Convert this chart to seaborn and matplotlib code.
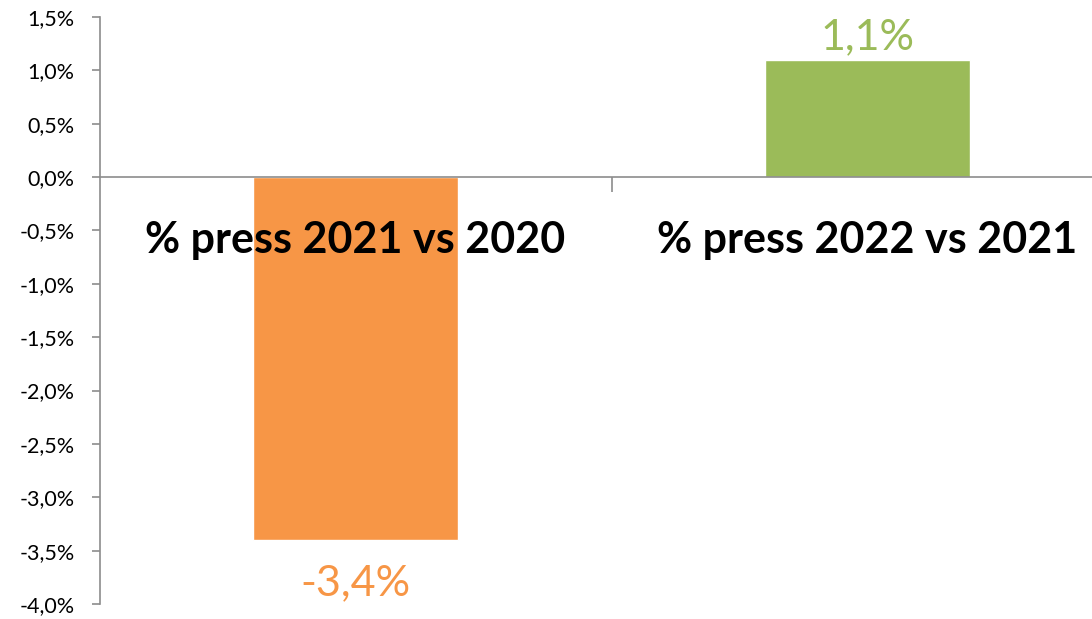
import matplotlib
matplotlib.use("Agg")
import matplotlib.pyplot as plt
import seaborn as sns
from matplotlib.ticker import FuncFormatter, FixedLocator

categories = ["% press 2021 vs 2020", "% press 2022 vs 2021"]
values = [-3.4, 1.1]
colors = ["#F79646", "#9BBB59"]
value_labels = ["-3,4%", "1,1%"]

sns.set_style("white")
plt.rcParams["font.family"] = ["Lato", "DejaVu Sans"]

fig = plt.figure(figsize=(10.92, 6.19), dpi=100)
# axes runs past the right edge of the figure, like the original crop
ax = fig.add_axes([99.5 / 1092, (619 - 604) / 619, 1024 / 1092, 587 / 619])

sns.barplot(x=categories, y=values, hue=categories, palette=colors,
            width=0.4, legend=False, ax=ax, saturation=1)

ax.set_ylim(-4.0, 1.5)
ax.set_xlim(-0.5, 1.5)
ax.yaxis.set_major_locator(FixedLocator([i * 0.5 for i in range(-8, 4)]))
ax.yaxis.set_major_formatter(FuncFormatter(lambda v, p: f"{v:.1f}%".replace(".", ",")))

for s in ["top", "right"]:
    ax.spines[s].set_visible(False)
ax.spines["bottom"].set_position(("data", 0))
for s in ["left", "bottom"]:
    ax.spines[s].set_color("#8c8c8c")
    ax.spines[s].set_linewidth(1.2)

ax.tick_params(axis="y", direction="out", length=6, width=1.2, color="#8c8c8c",
               labelsize=15.5, labelcolor="black", left=True, pad=12)
ax.xaxis.set_minor_locator(FixedLocator([0.5, 1.5]))
ax.tick_params(axis="x", which="minor", direction="out", length=11, width=1.2,
               color="#8c8c8c", bottom=True)
ax.tick_params(axis="x", which="major", length=0, labelbottom=False)
ax.set_xlabel("")
ax.set_ylabel("")

# category names sit on top of the bars, just under the zero line
for i, name in enumerate(categories):
    ax.annotate(name, (i, 0), xytext=(0, -45), textcoords="offset points",
                ha="center", va="center", fontsize=31, fontweight="bold",
                color="black", zorder=10)

for i, (v, t, c) in enumerate(zip(values, value_labels, colors)):
    off = -31 if v < 0 else 16.5
    ax.annotate(t, (i, v), xytext=(0, off), textcoords="offset points",
                ha="center", va="center", fontsize=31, color=c)

fig.savefig("out.png", dpi=100)
